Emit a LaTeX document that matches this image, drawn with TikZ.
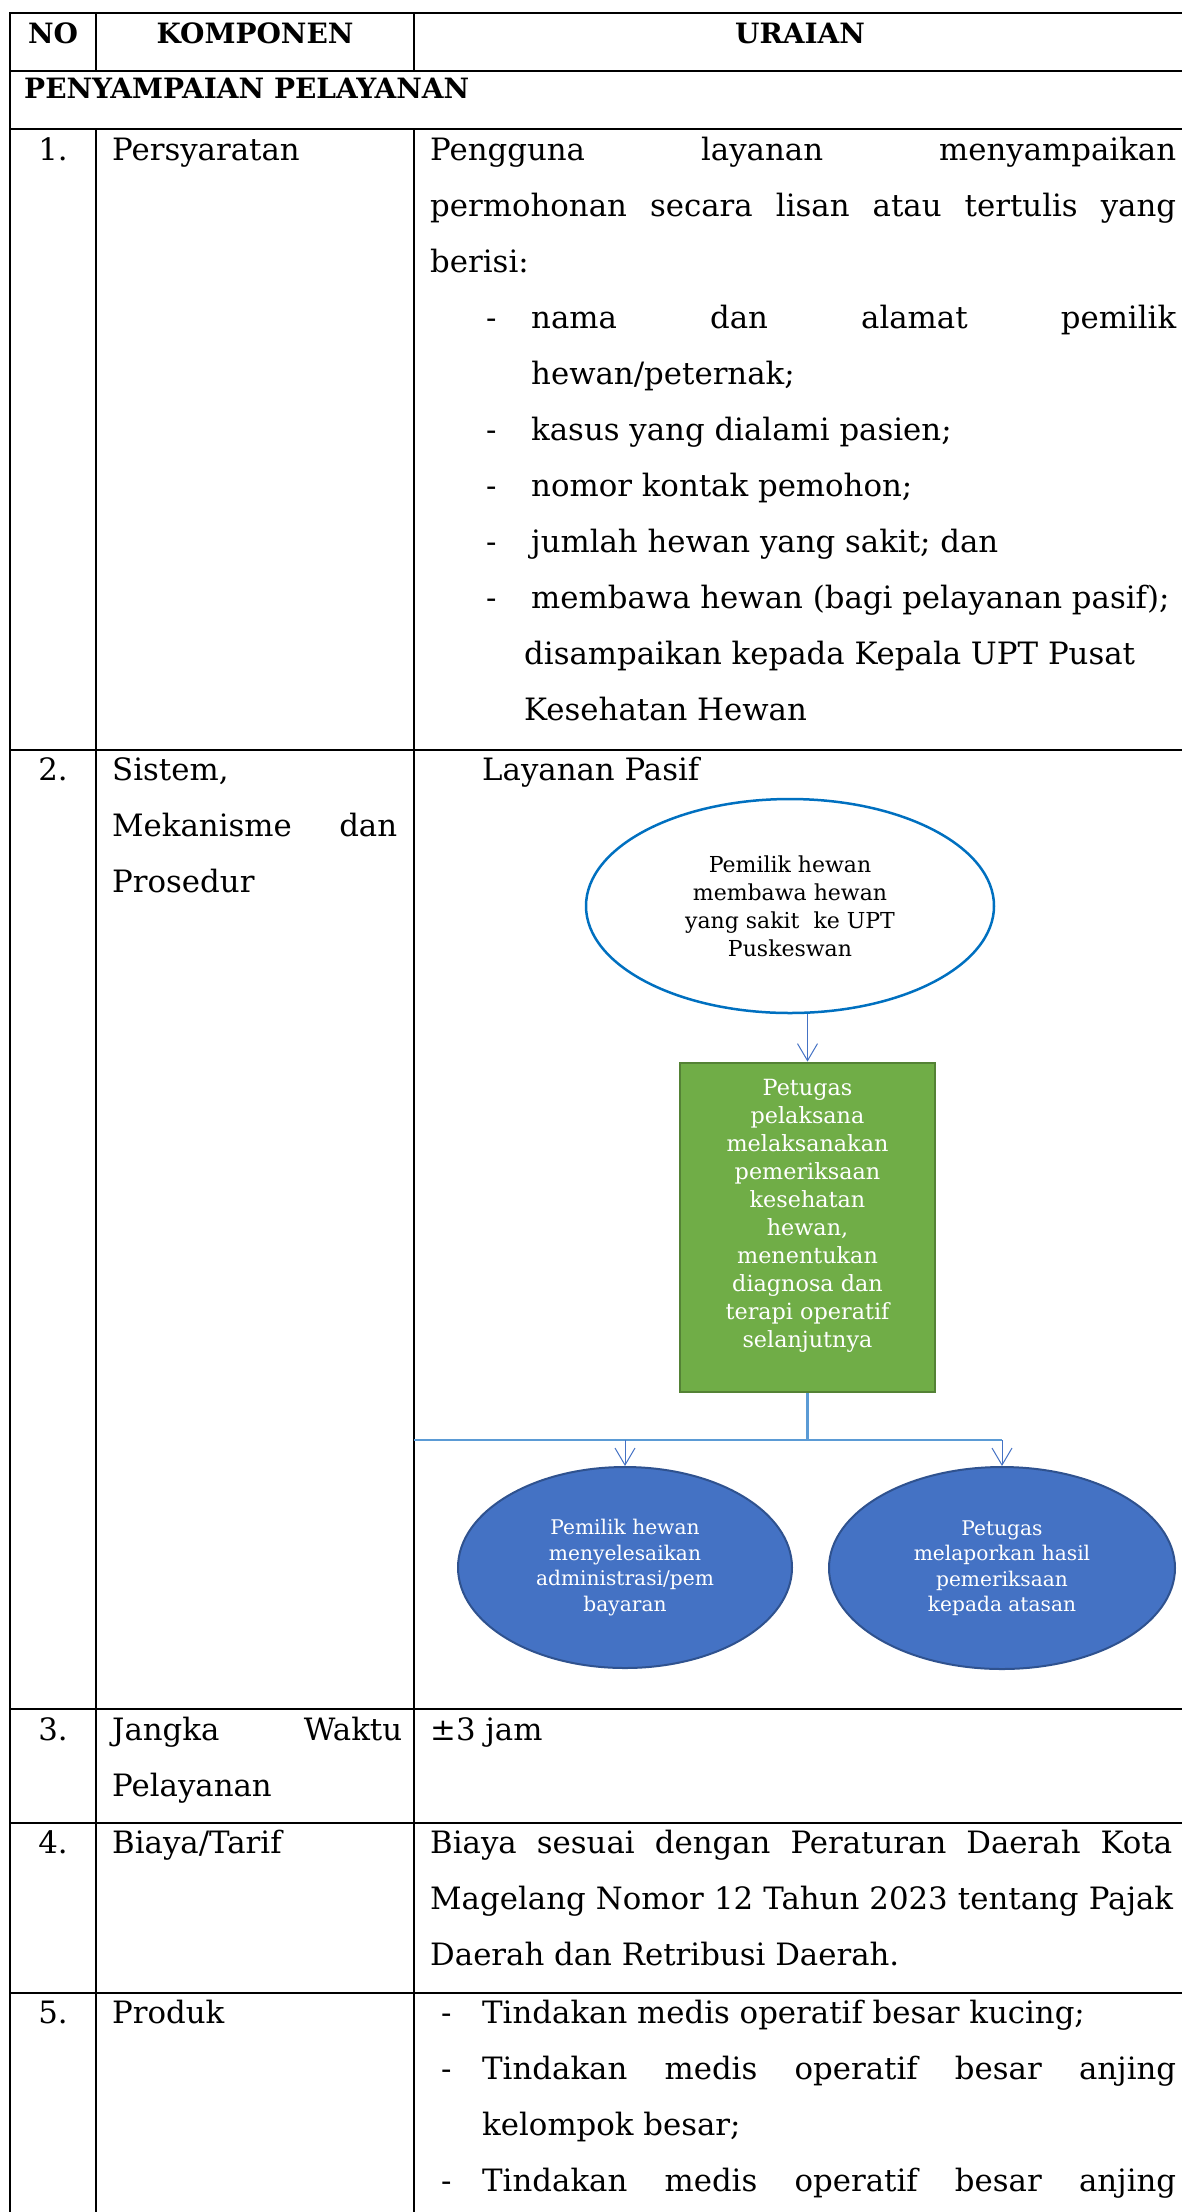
\documentclass[tikz,border=0pt]{standalone}
\usepackage{fontspec}
\setmainfont{DejaVu Serif}
\usetikzlibrary{shapes.geometric,arrows.meta}

\definecolor{ovalblue}{HTML}{0070C0}
\definecolor{boxgreen}{HTML}{70AD47}
\definecolor{boxgreenline}{HTML}{548235}
\definecolor{discblue}{HTML}{4472C4}
\definecolor{discblueline}{HTML}{2F528F}
\definecolor{busblue}{HTML}{5B9BD5}

\newcommand{\celltext}{\fontsize{30.8}{56}\selectfont}
\newcommand{\headtext}{\fontsize{28}{30}\selectfont\bfseries}
\newcommand{\jline}[2]{\makebox[#1][s]{#2}}

\begin{document}
\begin{tikzpicture}[x=1pt,y=-1pt,
    grid/.style={line width=2.4pt, black, line cap=rect},
    cell/.style={anchor=base west, inner sep=0pt, font=\celltext},
    num/.style={anchor=base, inner sep=0pt, font=\celltext},
    head/.style={anchor=base, inner sep=0pt, font=\headtext},
    oval/.style={ellipse, draw=ovalblue, line width=2.5pt, fill=white, minimum width=408pt, minimum height=214pt, inner sep=0pt, align=center, font=\fontsize{22}{28}\selectfont},
    greenbox/.style={rectangle, draw=boxgreenline, line width=2.8pt, fill=boxgreen, minimum width=255pt, minimum height=329pt, inner sep=0pt, align=center, text=white, font=\fontsize{22.3}{28}\selectfont},
    disc/.style={ellipse, draw=discblueline, line width=2pt, fill=discblue, minimum width=334pt, minimum height=201pt, inner sep=0pt, align=center, text=white, font=\fontsize{20.2}{25.5}\selectfont},
    arr/.style={draw=discblue, line width=1pt, -{Straight Barb[length=17pt,width=20pt]}},
    bus/.style={draw=busblue, line width=2.2pt}]
\useasboundingbox (0,0) rectangle (1182,2212);

%Table rules
\foreach \y in {13,71,129,750,1709,1823,1993}
    \draw[grid] (10,\y) -- (1182,\y);
\draw[grid] (10,13) -- (10,2212);
\draw[grid] (96,13) -- (96,71);
\draw[grid] (96,129) -- (96,2212);
\draw[grid] (414,13) -- (414,71);
\draw[grid] (414,129) -- (414,2212);

% Header
\node[head] (hNo) at (53,43) {NO};
\node[head] (hKomp) at (255,43) {KOMPONEN};
\node[head] (hUraian) at (800,43) {URAIAN};
\node[head, anchor=base west] (hSection) at (24,98) {PENYAMPAIAN PELAYANAN};

% Row 1
\node[num] (n1) at (53,160) {1.};
\node[cell] (k1) at (112,160) {Persyaratan};
\node[cell] (u1a) at (430,160) {\jline{746pt}{Pengguna layanan menyampaikan}};
\node[cell] (u1b) at (430,216) {\jline{746pt}{permohonan secara lisan atau tertulis yang}};
\node[cell] (u1c) at (430,272) {berisi:};
\node[cell] (d1a) at (486,328) {-};
\node[cell] (u1d) at (531,328) {\jline{645pt}{nama dan alamat pemilik}};
\node[cell] (u1e) at (531,384) {hewan/peternak;};
\node[cell] (d1b) at (486,440) {-};
\node[cell] (u1f) at (531,440) {kasus yang dialami pasien;};
\node[cell] (d1c) at (486,496) {-};
\node[cell] (u1g) at (531,496) {nomor kontak pemohon;};
\node[cell] (d1d) at (486,552) {-};
\node[cell] (u1h) at (531,552) {jumlah hewan yang sakit; dan};
\node[cell] (d1e) at (486,608) {-};
\node[cell] (u1i) at (531,608) {membawa hewan (bagi pelayanan pasif);};
\node[cell] (u1j) at (524,664) {disampaikan kepada Kepala UPT Pusat};
\node[cell] (u1k) at (524,720) {Kesehatan Hewan};

% Row 2
\node[num] (n2) at (53,780) {2.};
\node[cell] (k2a) at (112,780) {Sistem,};
\node[cell] (k2b) at (112,836) {\jline{285pt}{Mekanisme dan}};
\node[cell] (k2c) at (112,892) {Prosedur};
\node[cell] (u2) at (482,780) {Layanan Pasif};

%Flow: Layanan Pasif
\node[oval] (bring) at (790,906) {Pemilik hewan\\membawa hewan\\yang sakit\ \ ke UPT\\Puskeswan};
\node[greenbox] (exam) at (807.5,1227.5) {Petugas\\pelaksana\\melaksanakan\\pemeriksaan\\kesehatan\\hewan,\\menentukan\\diagnosa dan\\terapi operatif\\selanjutnya\\\mbox{}};
\node[disc] (pay) at (625,1567.5) {Pemilik hewan\\menyelesaikan\\administrasi/pem\\bayaran};
\node[disc, minimum width=346pt, minimum height=202pt] (report) at (1002,1568) {Petugas\\melaporkan hasil\\pemeriksaan\\kepada atasan};

\coordinate (busL) at (414,1440);
\draw[arr] (bring.south -| exam.north) -- (exam.north);
\draw[bus] (exam.south) -- (exam.south |- busL);
\draw[bus] (busL) -- (report.north |- busL);
\draw[arr] (pay.north |- busL) -- (pay.north);
\draw[arr] (report.north |- busL) -- (report.north);

% Row 3
\node[num] (n3) at (53,1740) {3.};
\node[cell] (k3a) at (112,1740) {\jline{290pt}{Jangka Waktu}};
\node[cell] (k3b) at (112,1796) {Pelayanan};
\node[cell] (u3) at (430,1740) {±3 jam};

% Row 4
\node[num] (n4) at (53,1853) {4.};
\node[cell] (k4) at (112,1853) {Biaya/Tarif};
\node[cell] (u4a) at (430,1853) {\jline{742pt}{Biaya sesuai dengan Peraturan Daerah Kota}};
\node[cell] (u4b) at (430,1909) {\jline{743pt}{Magelang Nomor 12 Tahun 2023 tentang Pajak}};
\node[cell] (u4c) at (430,1965) {Daerah dan Retribusi Daerah.};

% Row 5
\node[num] (n5) at (53,2023) {5.};
\node[cell] (k5) at (112,2023) {Produk};
\node[cell] (d5a) at (441,2023) {-};
\node[cell] (u5a) at (482,2023) {Tindakan medis operatif besar kucing;};
\node[cell] (d5b) at (441,2079) {-};
\node[cell] (u5b) at (482,2079) {\jline{694pt}{Tindakan medis operatif besar anjing}};
\node[cell] (u5c) at (482,2135) {kelompok besar;};
\node[cell] (d5c) at (441,2191) {-};
\node[cell] (u5d) at (482,2191) {\jline{694pt}{Tindakan medis operatif besar anjing}};

\end{tikzpicture}
\end{document}
